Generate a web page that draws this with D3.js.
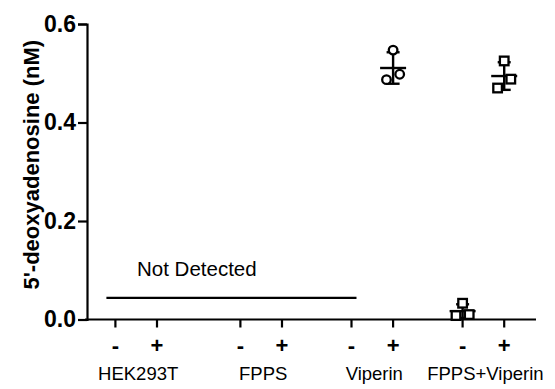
<!DOCTYPE html>
<html>
<head>
<meta charset="utf-8">
<script src="https://cdn.jsdelivr.net/npm/d3@7"></script>
<style>
  body { margin: 0; background: #fff; }
  text { font-family: "Liberation Sans", Arial, sans-serif; fill: #000; }
</style>
</head>
<body>
<svg id="chart" width="555" height="389"></svg>
<script>
// groups and the -/+ treatment inside each group
const groups = ['HEK293T', 'FPPS', 'Viperin', 'FPPS+Viperin'];
const treatments = ['-', '+'];
const yTicks = [0, 0.2, 0.4, 0.6];

// measured replicates (nM); conditions not listed were not detected
const viperinPlus = [0.547, 0.498, 0.487];
const fppsViperinMinus = [0.033, 0.010, 0.008];
const fppsViperinPlus = [0.525, 0.488, 0.470];
const notDetected = [
  ['HEK293T', '-'], ['HEK293T', '+'], ['FPPS', '-'], ['FPPS', '+'], ['Viperin', '-'],
];
const notDetectedLevel = 0.044;

const measured = [
  { group: 'Viperin', treat: '+', values: viperinPlus, shape: 'circle' },
  { group: 'FPPS+Viperin', treat: '-', values: fppsViperinMinus, shape: 'square' },
  { group: 'FPPS+Viperin', treat: '+', values: fppsViperinPlus, shape: 'square' },
];

const svg = d3.select('#chart');
const left = 87;
const bottom = 319.5;

const y = d3.scaleLinear().domain([0, 0.6]).range([bottom, 24]);

// first group sits a little further from the others
const groupUnits = d3.scaleOrdinal().domain(groups).range([0, 1.125, 2.125, 3.125]);
const groupX = d3.scaleLinear().domain([0, 3.125]).range([136.2, 483.4]);
const treatOffset = d3.scalePoint().domain(treatments).range([-20.8, 20.8]);
const x = (g, t) => groupX(groupUnits(g)) + treatOffset(t);

// y axis
const yAxis = svg.append('g')
  .attr('transform', `translate(${left},0)`)
  .call(d3.axisLeft(y).tickValues(yTicks).tickFormat(d3.format('.1f')).tickSize(9).tickPadding(2));
yAxis.select('.domain').attr('stroke-width', 2.2);
yAxis.selectAll('.tick line').attr('stroke-width', 2.2);
yAxis.selectAll('.tick text')
  .style('font-size', '23px').style('font-weight', 'bold')
  .style('font-family', '"Liberation Sans", Arial, sans-serif');

svg.append('text')
  .attr('transform', `translate(39,${(y(0) + y(0.6)) / 2 - 7}) rotate(-90)`)
  .attr('text-anchor', 'middle')
  .style('font-size', '22px')
  .style('font-weight', 'bold')
  .text("5'-deoxyadenosine (nM)");

// x axis
svg.append('line')
  .attr('x1', left - 2).attr('x2', 536)
  .attr('y1', y(0)).attr('y2', y(0))
  .attr('stroke', '#000').attr('stroke-width', 2.2);

const conditions = groups.flatMap((g) => treatments.map((t) => ({ g, t })));
svg.selectAll('line.xtick')
  .data(conditions)
  .join('line')
  .attr('class', 'xtick')
  .attr('x1', (d) => x(d.g, d.t)).attr('x2', (d) => x(d.g, d.t))
  .attr('y1', y(0)).attr('y2', y(0) + 8)
  .attr('stroke', '#000').attr('stroke-width', 2.2);

svg.selectAll('text.xtreat')
  .data(conditions)
  .join('text')
  .attr('class', 'xtreat')
  .attr('x', (d) => x(d.g, d.t))
  .attr('y', 353)
  .attr('text-anchor', 'middle')
  .style('font-size', '22px')
  .style('font-weight', 'bold')
  .text((d) => d.t);

svg.selectAll('text.xgroup')
  .data(groups)
  .join('text')
  .attr('class', 'xgroup')
  .attr('x', (d) => groupX(groupUnits(d)) + 2)
  .attr('y', 380)
  .attr('text-anchor', 'middle')
  .style('font-size', '18.5px')
  .text((d) => d);

// "Not Detected" line across the undetected conditions
const ndFirst = notDetected[0];
const ndLast = notDetected[notDetected.length - 1];
svg.append('line')
  .attr('x1', x(ndFirst[0], ndFirst[1]) - 9)
  .attr('x2', x(ndLast[0], ndLast[1]) + 5)
  .attr('y1', y(notDetectedLevel)).attr('y2', y(notDetectedLevel))
  .attr('stroke', '#000').attr('stroke-width', 2.2);
svg.append('text')
  .attr('x', 137)
  .attr('y', 276)
  .style('font-size', '20.5px')
  .text('Not Detected');

// spread points that would overlap: sorted high to low, close pairs go right/left
function spread(values) {
  const sorted = [...values].sort((a, b) => b - a);
  const out = [];
  let i = 0;
  while (i < sorted.length) {
    const cluster = [sorted[i]];
    while (i + cluster.length < sorted.length
      && y(sorted[i + cluster.length]) - y(cluster[cluster.length - 1]) < 11) {
      cluster.push(sorted[i + cluster.length]);
    }
    if (cluster.length === 1) {
      out.push({ v: cluster[0], dx: 0 });
    } else {
      cluster.forEach((v, k) => out.push({ v, dx: k % 2 === 0 ? 6.6 : -6.6 }));
    }
    i += cluster.length;
  }
  return out;
}

const marks = svg.append('g');
measured.forEach((m) => {
  const cx = x(m.group, m.treat);
  const mean = d3.mean(m.values);
  const sd = d3.deviation(m.values);
  const g = marks.append('g');
  // error bar: mean line, whisker, caps
  g.append('line')
    .attr('x1', cx - 13).attr('x2', cx + 13)
    .attr('y1', y(mean)).attr('y2', y(mean))
    .attr('stroke', '#000').attr('stroke-width', 2.4);
  g.append('line')
    .attr('x1', cx).attr('x2', cx)
    .attr('y1', y(mean + sd)).attr('y2', y(Math.max(0, mean - sd)))
    .attr('stroke', '#000').attr('stroke-width', 2.4);
  [mean + sd, mean - sd].filter((v) => v > 0).forEach((v) => {
    g.append('line')
      .attr('x1', cx - 6.5).attr('x2', cx + 6.5)
      .attr('y1', y(v)).attr('y2', y(v))
      .attr('stroke', '#000').attr('stroke-width', 2.4);
  });

  const pts = spread(m.values);
  if (m.shape === 'circle') {
    g.selectAll('circle')
      .data(pts)
      .join('circle')
      .attr('cx', (d) => cx + d.dx)
      .attr('cy', (d) => y(d.v))
      .attr('r', 4.3)
      .attr('fill', '#fff')
      .attr('stroke', '#000')
      .attr('stroke-width', 2.3);
  } else {
    g.selectAll('rect')
      .data(pts)
      .join('rect')
      .attr('x', (d) => cx + d.dx - 4.3)
      .attr('y', (d) => y(d.v) - 4.3)
      .attr('width', 8.6)
      .attr('height', 8.6)
      .attr('fill', '#fff')
      .attr('stroke', '#000')
      .attr('stroke-width', 2.3);
  }
});
</script>
</body>
</html>
